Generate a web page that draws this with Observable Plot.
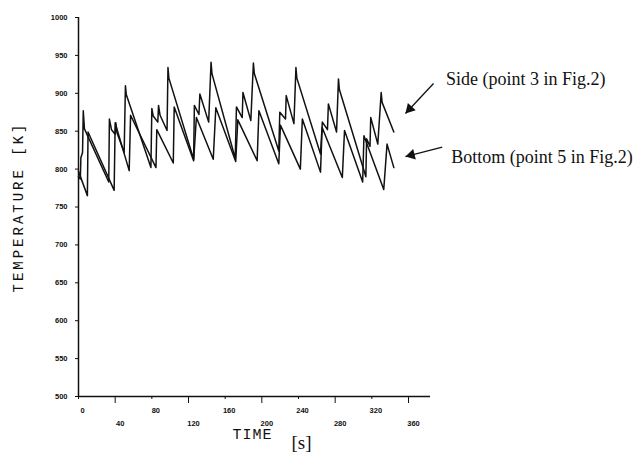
<!DOCTYPE html>
<html>
<head>
<meta charset="utf-8">
<script src="https://cdn.jsdelivr.net/npm/d3@7"></script>
<script src="https://cdn.jsdelivr.net/npm/@observablehq/plot@0.6"></script>
<style>
  html, body { margin: 0; padding: 0; background: #fff; }
  #chart { width: 639px; height: 460px; }
</style>
</head>
<body>
<div id="chart"></div>
<script>
// ---- data ----
const sideTime = [0,2,2.6,4.4,5.2,6.5,33,33.7,36,40,40.7,42,49.8,51.2,52.2,79,80,81.5,86.5,87.3,89,96.6,97.6,98.6,125.6,126.4,131.4,132.4,142,144.6,145.6,171,172.3,178.6,179.4,188,190.8,191.8,218.5,219.6,225.8,226.6,235,237.2,238.2,264,266,271.6,272.6,281.5,283.6,284.6,313.5,314.3,318,318.8,326.5,330.2,331.2,344];
const sideTemp = [790,787,815,822,877,853,783,866,852,846,861,848,822,910,898,802,880,870,862,884,871,851,934,920,813,884,872,899,862,941,926,814,882,868,901,864,940,926,824,875,866,897,860,934,920,820,862,852,886,849,919,905,790,840,830,868,833,901,888,849];
const bottomTime = [0,9.7,10.4,38.9,40,55.3,56.8,84.5,85.4,103.4,104.4,125.6,128.6,147,149.8,171.5,173.8,194.9,196.8,218.5,220.3,242,244.2,264,265.8,287.8,290.2,310,311.4,333,336.6,344];
const bottomTemp = [797,765,849,772,861,798,871,802,852,808,882,811,868,813,881,810,865,811,877,807,858,800,866,796,855,789,851,783,844,773,833,802];
const xTicksRow1 = [0,80,160,240,320];
const xTicksRow2 = [40,120,200,280,360];
const yTicks = [500,550,600,650,700,750,800,850,900,950,1000];
const seriesLabels = ["Side (point 3 in Fig.2)", "Bottom (point 5 in Fig.2)"];
const yTitle = "TEMPERATURE [K]";
const xTitle = "TIME";
const xUnit = "[s]";

// ---- tables built from the arrays ----
const side = sideTime.map((t, i) => ({t, k: sideTemp[i]}));
const bottom = bottomTime.map((t, i) => ({t, k: bottomTemp[i]}));

// annotation placement (data space)
const labelPos = [{t: 401, k: 918, text: seriesLabels[0]}, {t: 406.6, k: 815, text: seriesLabels[1]}];
const arrowSide = {t1: 387.3, k1: 912.9, t2: 356.7, k2: 873.4};
const arrowBottom = {t1: 396.8, k1: 828.9, t2: 356.7, k2: 816.6};

const ink = "#111";

const chart = Plot.plot({
  width: 639,
  height: 460,
  marginLeft: 78,
  marginRight: 209,
  marginTop: 17,
  marginBottom: 64,
  x: {domain: [0, 384]},
  y: {domain: [500, 1000]},
  style: {fontFamily: "Liberation Sans", fontSize: "7px", background: "#fff", color: ink},
  marks: [
    Plot.ruleX([0], {y1: 500, y2: 1000, stroke: ink, strokeWidth: 1.5}),
    Plot.ruleY([500], {x1: 0, x2: 384, stroke: ink, strokeWidth: 1.5}),
    Plot.axisY({ticks: yTicks, tickSize: 3, tickPadding: 8, tickFormat: d3.format("d"), label: null, fontWeight: "bold", fontSize: 7.5}),
    Plot.axisX({ticks: xTicksRow1, tickSize: 3, tickFormat: () => "", label: null}),
    Plot.axisX({ticks: xTicksRow2, tickSize: 7, tickFormat: () => "", label: null}),
    Plot.axisX({ticks: xTicksRow1, tickSize: 0, tickPadding: 11, dx: 4, label: null, fontWeight: "bold", fontSize: 7.5}),
    Plot.axisX({ticks: xTicksRow2, tickSize: 0, tickPadding: 24, dx: 5, label: null, fontWeight: "bold", fontSize: 7.5}),
    Plot.line(side, {x: "t", y: "k", stroke: ink, strokeWidth: 1.5}),
    Plot.line(bottom, {x: "t", y: "k", stroke: ink, strokeWidth: 1.5}),
    Plot.text([yTitle], {frameAnchor: "left", textAnchor: "middle", dx: -60, rotate: -90, fontFamily: "Liberation Mono", fontSize: 14, fill: ink}),
    Plot.text([xTitle], {frameAnchor: "bottom", dx: -2, dy: 42, fontFamily: "Liberation Mono", fontSize: 15, fill: ink}),
    Plot.text([xUnit], {frameAnchor: "bottom", dx: 47, dy: 52, fontFamily: "Liberation Serif", fontSize: 19, fill: ink}),
    Plot.text(labelPos, {x: "t", y: "k", text: "text", textAnchor: "start", fontFamily: "Liberation Serif", fontSize: 18, fill: ink, clip: false}),
    Plot.link([arrowSide, arrowBottom], {x1: "t1", y1: "k1", x2: "t2", y2: "k2", stroke: ink, strokeWidth: 1.3}),
    Plot.dot([arrowSide], {x: "t2", y: "k2", symbol: "triangle", r: 4, fill: ink, stroke: "none", rotate: -137, dx: 4.2, dy: -4.5}),
    Plot.dot([arrowBottom], {x: "t2", y: "k2", symbol: "triangle", r: 4, fill: ink, stroke: "none", rotate: -104, dx: 6, dy: -1.5})
  ]
});

document.getElementById("chart").appendChild(chart);
d3.select(chart).selectAll("text").each(function () {
  const s = this.textContent;
  if (s === yTitle) this.setAttribute("letter-spacing", "3");
  if (s === xTitle) this.setAttribute("letter-spacing", "1");
});
</script>
</body>
</html>
